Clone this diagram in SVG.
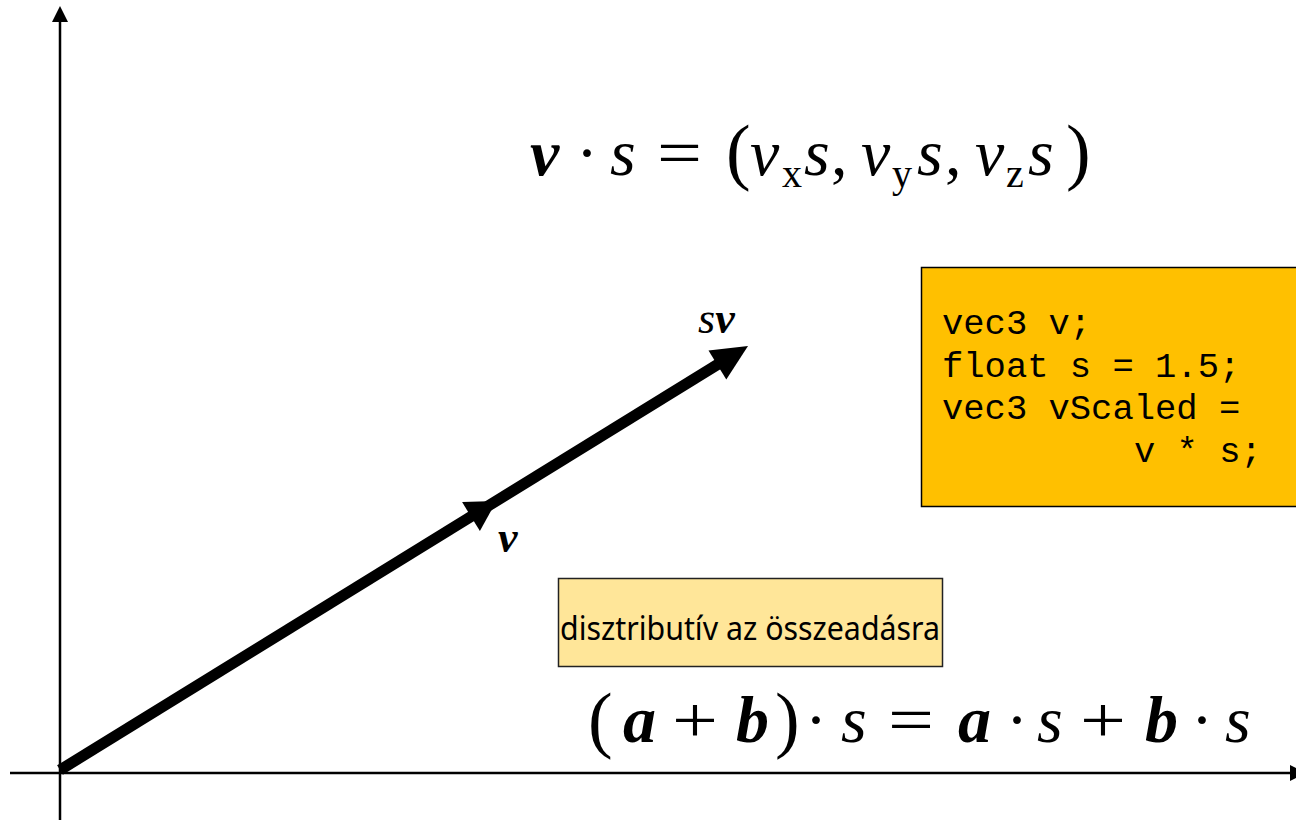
<svg xmlns="http://www.w3.org/2000/svg" width="1296" height="820" viewBox="0 0 1296 820">
<style>
.m{font-family:"Liberation Serif","DejaVu Serif",serif;font-size:66px;fill:#000}
.i{font-style:italic}
.b{font-style:italic;font-weight:bold}
.sub{font-size:40px}
.par{font-size:74px}
.code{font-family:"Liberation Mono","Courier New",monospace;font-size:35.5px;fill:#000}
.lbl{font-family:"Liberation Serif","DejaVu Serif",serif;font-size:44px;fill:#000}
</style>
<rect width="1296" height="820" fill="#fff"/>
<g id="connectors">
  <g id="axis-y">
    <line x1="60" y1="20" x2="60" y2="820" stroke="#000" stroke-width="2.5"/>
    <polygon points="60,6 52,22 68,22" fill="#000"/>
  </g>
  <g id="axis-x">
    <line x1="10" y1="773" x2="1292" y2="773" stroke="#000" stroke-width="2.5"/>
    <polygon points="1306,773 1290,765 1290,781" fill="#000"/>
  </g>
  <g id="vector-sv">
    <line x1="60" y1="770" x2="720" y2="363" stroke="#000" stroke-width="11"/>
    <polygon points="748,346 726.3,379.4 708.5,350.4" fill="#000"/>
    <polygon points="496.5,500.9 479.9,531.1 462.1,502.1" fill="#000"/>
  </g>
</g>
<g id="label-sv">
  <text class="lbl" y="333"><tspan class="i" x="698">s</tspan><tspan class="b">v</tspan></text>
</g>
<g id="label-v">
  <text class="lbl b" x="498" y="552">v</text>
</g>
<g id="formula-top">
  <text class="m b" x="530" y="175">v</text>
  <text class="m" x="587" y="175" text-anchor="middle">·</text>
  <text class="m i" x="610" y="175">s</text>
  <text class="m" x="657" y="175" textLength="45" lengthAdjust="spacingAndGlyphs">=</text>
  <text class="m par" x="726" y="176">(</text>
  <text class="m i" x="750" y="175">v</text>
  <text class="m sub" x="782" y="187">x</text>
  <text class="m i" x="804" y="175">s</text>
  <text class="m" x="831" y="175">,</text>
  <text class="m i" x="861" y="175">v</text>
  <text class="m sub" x="892" y="187">y</text>
  <text class="m i" x="917" y="175">s</text>
  <text class="m" x="945" y="175">,</text>
  <text class="m i" x="975" y="175">v</text>
  <text class="m sub" x="1006" y="187">z</text>
  <text class="m i" x="1028" y="175">s</text>
  <text class="m par" x="1066" y="176">)</text>
</g>
<g id="formula-bottom">
  <text class="m par" x="588" y="744">(</text>
  <text class="m b" x="623" y="742">a</text>
  <text class="m" x="672" y="742" textLength="46" lengthAdjust="spacingAndGlyphs">+</text>
  <text class="m b" x="736" y="742">b</text>
  <text class="m par" x="775" y="744">)</text>
  <text class="m" x="816" y="742" text-anchor="middle">·</text>
  <text class="m i" x="841" y="742">s</text>
  <text class="m" x="888" y="742" textLength="46" lengthAdjust="spacingAndGlyphs">=</text>
  <text class="m b" x="958" y="742">a</text>
  <text class="m" x="1017" y="742" text-anchor="middle">·</text>
  <text class="m i" x="1037" y="742">s</text>
  <text class="m" x="1080" y="742" textLength="46" lengthAdjust="spacingAndGlyphs">+</text>
  <text class="m b" x="1145" y="742">b</text>
  <text class="m" x="1202" y="742" text-anchor="middle">·</text>
  <text class="m i" x="1225" y="742">s</text>
</g>
<g id="code-box">
  <rect x="921.5" y="267.5" width="380" height="239" fill="#FFC000" stroke="#000" stroke-width="1.5"/>
  <text class="code" x="942" y="334">vec3 v;</text>
  <text class="code" x="942" y="376.5">float s = 1.5;</text>
  <text class="code" x="942" y="419">vec3 vScaled =</text>
  <text class="code" x="1134" y="461.5">v * s;</text>
</g>
<g id="note-box">
  <rect x="558.5" y="578.5" width="384" height="88" fill="#FFE699" stroke="#222" stroke-width="1.5"/>
  <text x="560" y="640" font-family="'Noto Sans','Open Sans',sans-serif" font-size="33" textLength="380" lengthAdjust="spacingAndGlyphs" fill="#000">disztributív az összeadásra</text>
</g>
</svg>
